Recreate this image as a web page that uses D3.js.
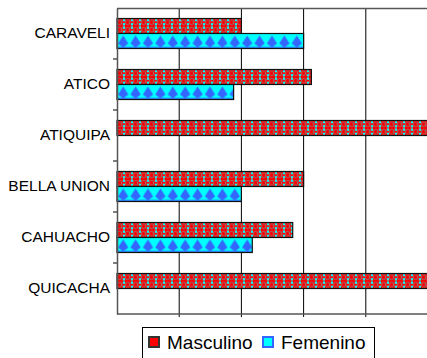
<!DOCTYPE html>
<html>
<head>
<meta charset="utf-8">
<script src="https://cdn.jsdelivr.net/npm/d3@7"></script>
<style>
  body { margin: 0; background: #fff; }
  svg { display: block; font-family: Arial, "Liberation Sans", sans-serif; }
</style>
</head>
<body>
<div id="chart"></div>
<script>
// district names, top to bottom
const districts = ['CARAVELI', 'ATICO', 'ATIQUIPA', 'BELLA UNION', 'CAHUACHO', 'QUICACHA'];
// percentage of each group per district
const masculino = [40, 62.5, 100, 60, 56.5, 100];
const femenino = [60, 37.5, 0, 40, 43.5, 0];
const seriesNames = ['Masculino', 'Femenino'];
const xTicks = [0, 20, 40, 60, 80, 100];

const width = 427, height = 358;
const plot = { left: 117, right: 428, top: 8, bottom: 314 };

const svg = d3.select('#chart').append('svg')
  .attr('width', width)
  .attr('height', height);

// fill patterns for the two series (bars are drawn at their own origin so these line up)
const defs = svg.append('defs');
const pm = defs.append('pattern')
  .attr('id', 'patM')
  .attr('patternUnits', 'userSpaceOnUse')
  .attr('width', 8).attr('height', 7.5);
pm.append('rect').attr('width', 8).attr('height', 7.5).attr('fill', '#ff0000');
pm.append('circle').attr('cx', 2.5).attr('cy', 3.75).attr('r', 2.4)
  .attr('fill', '#ff0000').attr('stroke', '#808080').attr('stroke-width', 0.9);
pm.append('rect').attr('x', 5.8).attr('y', 0.4).attr('width', 2.4).attr('height', 2.4).attr('fill', '#00ffff');
pm.append('rect').attr('x', 5.8).attr('y', 4.6).attr('width', 2.4).attr('height', 2.4).attr('fill', '#00ffff');

const pf = defs.append('pattern')
  .attr('id', 'patF')
  .attr('patternUnits', 'userSpaceOnUse')
  .attr('width', 12.4).attr('height', 15);
pf.append('rect').attr('width', 12.4).attr('height', 15).attr('fill', '#00ffff');
pf.append('path').attr('d', 'M6.2 2 L11.4 10 L6.2 14 L1 10 Z').attr('fill', '#3366ff');
pf.append('rect').attr('x', 0).attr('y', 13.5).attr('width', 12.4).attr('height', 1.5).attr('fill', '#3366ff');

const x = d3.scaleLinear().domain([0, 100]).range([plot.left, plot.right]);
const y = d3.scaleBand().domain(districts).range([plot.top, plot.bottom]);
const ySub = d3.scaleBand().domain(seriesNames)
  .range([0, y.bandwidth()])
  .paddingInner(0).paddingOuter(0.7);

// gridlines
svg.append('g')
  .selectAll('line')
  .data(xTicks.slice(1))
  .join('line')
  .attr('x1', d => x(d)).attr('x2', d => x(d))
  .attr('y1', plot.top).attr('y2', plot.bottom + 3)
  .attr('stroke', '#000').attr('stroke-width', 1);

// plot frame: top and bottom lines
svg.append('line')
  .attr('x1', plot.left).attr('x2', width)
  .attr('y1', plot.top + 0.5).attr('y2', plot.top + 0.5)
  .attr('stroke', '#555').attr('stroke-width', 1.5);
svg.append('line')
  .attr('x1', plot.left).attr('x2', width)
  .attr('y1', plot.bottom).attr('y2', plot.bottom)
  .attr('stroke', '#555').attr('stroke-width', 1.5);

// bars
const rows = districts.map((d, i) => ({ name: d, values: [masculino[i], femenino[i]] }));
const group = svg.append('g')
  .selectAll('g')
  .data(rows)
  .join('g')
  .attr('transform', d => `translate(0,${y(d.name)})`);

group.selectAll('rect')
  .data(d => d.values.map((v, j) => ({ series: seriesNames[j], value: v })).filter(e => e.value > 0))
  .join('rect')
  .attr('transform', d => `translate(${x(0)},${ySub(d.series)})`)
  .attr('x', 0)
  .attr('y', 0)
  .attr('width', d => x(d.value) - x(0))
  .attr('height', ySub.bandwidth())
  .attr('fill', d => d.series === 'Masculino' ? 'url(#patM)' : 'url(#patF)')
  .attr('stroke', '#111')
  .attr('stroke-width', 1.2);

// left axis with category labels
const yAxis = d3.axisLeft(y).tickSize(0).tickPadding(7);
const ay = svg.append('g')
  .attr('transform', `translate(${plot.left},0)`)
  .call(yAxis);
ay.select('.domain').attr('stroke', '#555').attr('stroke-width', 1.5);
ay.selectAll('text')
  .attr('font-size', 15.5)
  .attr('font-family', 'Arial, "Liberation Sans", sans-serif')
  .attr('fill', '#000');

// tick marks between the categories
svg.append('g')
  .selectAll('line')
  .data(districts.slice(1))
  .join('line')
  .attr('x1', plot.left - 4).attr('x2', plot.left)
  .attr('y1', d => y(d)).attr('y2', d => y(d))
  .attr('stroke', '#555').attr('stroke-width', 1.5);

// legend
const legend = svg.append('g');
legend.append('rect')
  .attr('x', 142.5).attr('y', 327.5)
  .attr('width', 232).attr('height', 40)
  .attr('fill', '#fff').attr('stroke', '#000').attr('stroke-width', 1);
const legendItems = [
  { name: seriesNames[0], x: 149, tx: 167 },
  { name: seriesNames[1], x: 263, tx: 281 }
];
legend.selectAll('rect.sw')
  .data(legendItems)
  .join('rect')
  .attr('class', 'sw')
  .attr('x', d => d.x).attr('y', 337)
  .attr('width', 10).attr('height', 10)
  .attr('fill', d => d.name === 'Masculino' ? '#ff0000' : '#00ffff')
  .attr('stroke', d => d.name === 'Masculino' ? '#333' : '#3366ff')
  .attr('stroke-width', 2);
legend.selectAll('text')
  .data(legendItems)
  .join('text')
  .attr('x', d => d.tx).attr('y', 349)
  .attr('font-size', 19)
  .attr('fill', '#000')
  .text(d => d.name);
</script>
</body>
</html>
